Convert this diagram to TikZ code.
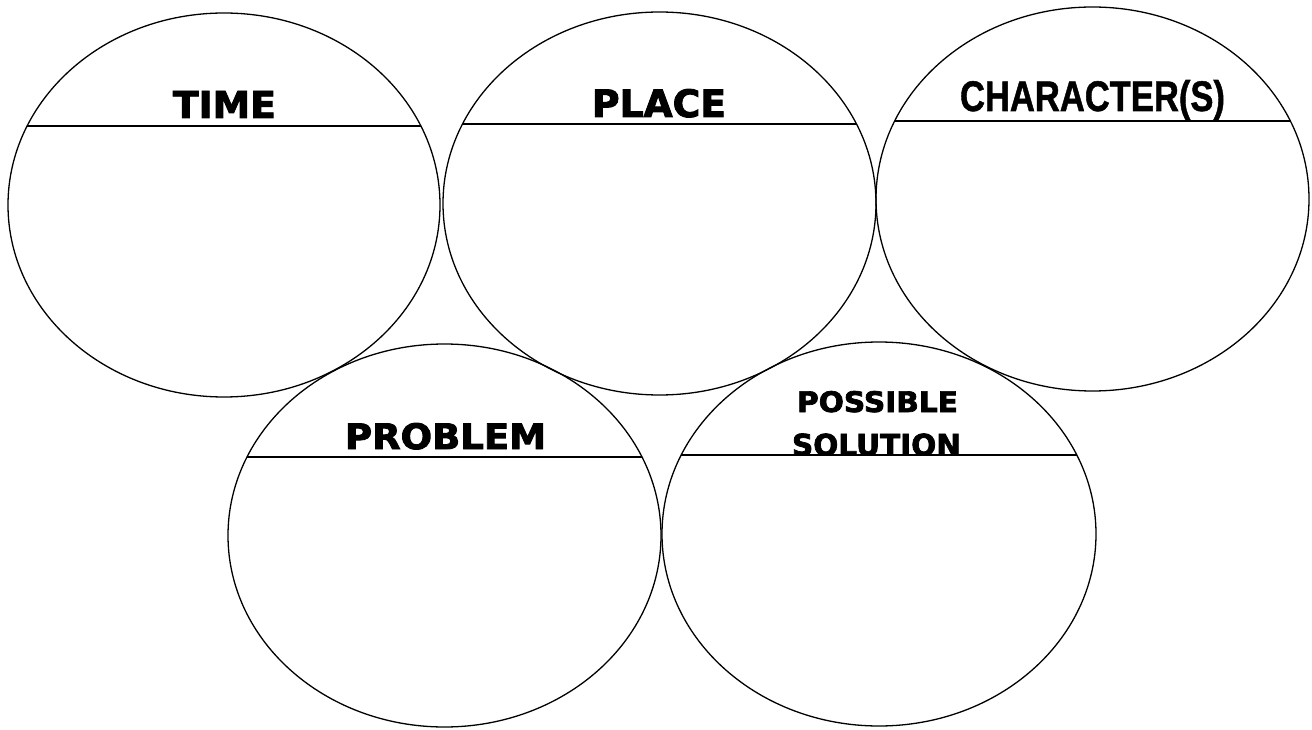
\documentclass[tikz,border=0pt]{standalone}
\usepackage{fontspec}
\setmainfont{DejaVu Sans}
\newfontfamily\heavy{DejaVu Sans}[BoldFeatures={FakeBold=2.5}]
\newfontfamily\narrowfont{Liberation Sans}[BoldFeatures={FakeBold=1.2}]
\usetikzlibrary{shapes.geometric,calc}
\tikzset{
  oval/.style={ellipse, draw, line width=1.3pt, inner sep=0pt, outer sep=0pt},
  chord/.style={line width=1.4pt},
  heading/.style={anchor=base, inner sep=0pt, font=\heavy\bfseries},
  narrowheading/.style={anchor=base, inner sep=0pt, font=\narrowfont\bfseries},
}
\begin{document}
\begin{tikzpicture}[x=1pt,y=-1pt]
\useasboundingbox (0,0) rectangle (1312,730);
% ellipses
\node[oval, minimum width=432pt, minimum height=384pt] (e1) at (224,205) {};
\node[oval, minimum width=433pt, minimum height=383pt] (e2) at (659.5,203.5) {};
\node[oval, minimum width=433pt, minimum height=384pt] (e3) at (1092.5,199) {};
\node[oval, minimum width=433pt, minimum height=383pt] (e4) at (444.5,535.5) {};
\node[oval, minimum width=434pt, minimum height=384pt] (e5) at (879,534) {};
% chord end points
\coordinate (e1l) at ($(e1.center)+(-197,-79)$);
\coordinate (e1r) at ($(e1.center)+(197,-79)$);
\coordinate (e2l) at ($(e2.center)+(-197,-79.5)$);
\coordinate (e2r) at ($(e2.center)+(197,-79.5)$);
\coordinate (e3l) at ($(e3.center)+(-198,-78)$);
\coordinate (e3r) at ($(e3.center)+(198,-78)$);
\coordinate (e4l) at ($(e4.center)+(-197.5,-78.5)$);
\coordinate (e4r) at ($(e4.center)+(197.5,-78.5)$);
\coordinate (e5l) at ($(e5.center)+(-198,-79)$);
\coordinate (e5r) at ($(e5.center)+(198,-79)$);
\draw[chord] (e1l) -- (e1r);
\draw[chord] (e2l) -- (e2r);
\draw[chord] (e3l) -- (e3r);
\draw[chord] (e4l) -- (e4r);
\draw[chord] (e5l) -- (e5r);
% headings
\node[heading] (t1) at (224.5,118) {\resizebox{103pt}{27pt}{TIME}};
\node[heading] (t2) at (659,117) {\resizebox{134pt}{28pt}{PLACE}};
\node[narrowheading] (t3) at (1092.5,111) {\resizebox{265pt}{31pt}{CHARACTER(S)}};
\node[heading] (t4) at (445.5,449) {\resizebox{201pt}{26pt}{PROBLEM}};
\node[heading] (t5) at (877.5,412) {\resizebox{161pt}{21pt}{POSSIBLE}};
\begin{scope}
\clip (700,420) rectangle (1060,455);
\node[heading] (t6) at (876.5,455.5) {\resizebox{169pt}{22pt}{SOLUTION}};
\end{scope}
\end{tikzpicture}
\end{document}
